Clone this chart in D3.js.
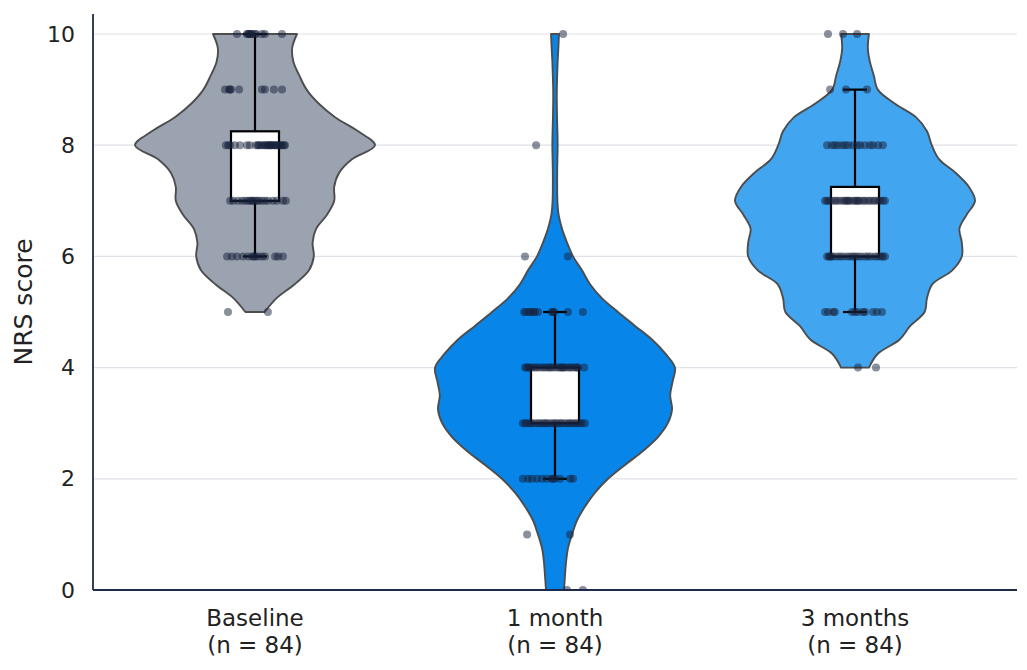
<!DOCTYPE html>
<html>
<head>
<meta charset="utf-8">
<script src="https://cdn.jsdelivr.net/npm/d3@7"></script>
<style>
  html, body { margin: 0; padding: 0; background: #ffffff; }
  svg { display: block; font-family: "DejaVu Sans", sans-serif; }
</style>
</head>
<body>
<svg id="chart" width="1027" height="670"></svg>
<script>
// ---------------- DATA ----------------
const categories = ["Baseline", "1 month", "3 months"];
const sampleSizes = [84, 84, 84];
const scoreLevels = [0, 1, 2, 3, 4, 5, 6, 7, 8, 9, 10];
const yTickValues = [0, 2, 4, 6, 8, 10];

// number of patients at each NRS score (0..10)
const baselineCounts = [0, 0, 0, 0, 0, 2, 14, 19, 28, 9, 12];
const month1Counts   = [2, 2, 12, 26, 26, 12, 2, 0, 1, 0, 1];
const month3Counts   = [0, 0, 0, 0, 2, 12, 22, 27, 15, 3, 3];

// strip-plot jitter (percent of category step), in ascending score order
const baselineJitter = [
  -9, 4.3,
  -9.3, -7.7, -6, -4, -2.3, -1, 0, 1, 2.3, 3.3, 6.7, 7.7, 9.3, -0.3,
  -8.3, -7.3, -5.7, -4.3, -3.3, -2.3, -1, -0.7, 0, 0.7, 2.3, 3.3, 4.3, 6, 7.3, 9.3, 10.3, -1.7, 1.3,
  -9.7, -8.3, -6.7, -5, -2.7, -1.7, 1, 2, 3.3, 4.3, 5.3, 6.3, 7.7, 8.7, 9.7, 10, 0.3, 1.3, 2.7, 3.7, 4.7, 5.7, 7, 8, 9, -9, 5, 6.7,
  -10, -8.7, -8, -5.3, 2.3, 3.3, 6.3, 9, -8.3,
  -6, -2.7, -2.3, -1.7, -1, 0, 2.3, 3.3, 9, -2, -1.3, 0.3
];
const month1Jitter = [
  4, 9.3,
  -9.3, 5,
  -10.7, -9, -7.7, -6, -4.3, -2.7, -1, 0, 1.7, 5, 6, -0.7,
  -10.7, -9.3, -7.7, -6.7, -5.7, -4, -2.7, -1.7, -0.7, 0.7, 1.7, 3.3, 4.3, 5.7, 6.7, 8.3, 10, -10, -8.3, -5, -3.3, 0, 2.3, 5, 7.3, 9,
  -10, -9, -7.7, -6.7, -5, -3.3, -2.3, -1, 0, 1, 2.3, 3.3, 4.3, 5.7, 6.7, 7.7, 9.7, -9.3, -8.3, -6, -4, -1.7, 1.7, 2.7, 5, 7.3,
  -10.3, -8.7, -7.3, -5.7, -1, -0.7, 4.3, 9.3, -9.7, -8, -6.7, -0.3,
  -10, 4.3,
  -6.3,
  2.7
];
const month3Jitter = [
  1, 7,
  -10, -7.3, -6.7, -1, 0, 1, 2.7, 3.3, 6, 7.3, 9, -9,
  -9.3, -8.7, -8, -7.3, -6, -5, -4, -2.7, -1.7, -0.7, 0, 1, 2, 3.3, 4.3, 5.3, 6.7, 7.7, 8.7, 9.3, 10, -8.3,
  -10, -9.3, -8.7, -7.7, -6.7, -6, -5, -4, -3.3, -2.3, -1.7, -0.7, 0, 0.7, 1.7, 2.7, 3.3, 4.3, 5, 6, 6.7, 7.7, 8.3, 9.3, 10, -2.7, 1,
  -9.3, -7.7, -6.7, -5.7, -4.3, -3.3, -2.3, -0.7, 0.7, 1.7, 3.3, 5, 6, 7.7, 9.3,
  -8.3, -3, 4,
  -9, -4, 0.7
];

// violin density profiles (relative width, max = 1), sampled every 0.25 from min to max score
const baselineViolinStart = 5;
const baselineViolin = [0.08, 0.18, 0.33, 0.45, 0.49, 0.48, 0.51, 0.6, 0.66, 0.66, 0.7, 0.81, 1.0,
  0.86, 0.67, 0.53, 0.43, 0.37, 0.32, 0.31, 0.35];
const month1ViolinStart = 0;
const month1Violin = [0.075, 0.083, 0.092, 0.108, 0.142, 0.183, 0.25, 0.333, 0.442, 0.583, 0.733, 0.858,
  0.94, 0.975, 0.96, 0.98, 1.0, 0.92, 0.81, 0.667, 0.525, 0.39, 0.292, 0.225, 0.15, 0.1, 0.058, 0.03,
  0.02, 0.018, 0.018, 0.02, 0.022, 0.02, 0.017, 0.015, 0.015, 0.018, 0.022, 0.028, 0.033];
const month3ViolinStart = 4;
const month3Violin = [0.116, 0.19, 0.37, 0.46, 0.58, 0.6, 0.645, 0.81, 0.89, 0.89, 0.87, 0.93, 1.0,
  0.95, 0.84, 0.70, 0.64, 0.6, 0.51, 0.33, 0.19, 0.157, 0.124, 0.107, 0.116];
const violinStep = 0.25;

const groupColors = ["#9ba3b0", "#0785e9", "#42a5f0"];

// ---------------- CHART ----------------
const svg = d3.select("#chart");
const plot = { left: 93, right: 1017, top: 14, bottom: 590 };

const x = d3.scaleBand().domain(categories).range([105, 1005]).paddingInner(0).paddingOuter(0);
const cx = c => x(c) + x.bandwidth() / 2;
const y = d3.scaleLinear().domain([0, 10.36]).range([plot.bottom, plot.top]);
const wScale = d3.scaleLinear().domain([0, 1]).range([0, x.step() * 0.4]);

const groups = [
  { name: categories[0], counts: baselineCounts, jitter: baselineJitter, violin: baselineViolin, start: baselineViolinStart, color: groupColors[0] },
  { name: categories[1], counts: month1Counts, jitter: month1Jitter, violin: month1Violin, start: month1ViolinStart, color: groupColors[1] },
  { name: categories[2], counts: month3Counts, jitter: month3Jitter, violin: month3Violin, start: month3ViolinStart, color: groupColors[2] }
];

groups.forEach(g => {
  g.values = [];
  scoreLevels.forEach((s, i) => { for (let k = 0; k < g.counts[i]; k++) g.values.push(s); });
  g.values.sort(d3.ascending);
  const q1 = d3.quantile(g.values, 0.25), q3 = d3.quantile(g.values, 0.75);
  const iqr = q3 - q1;
  g.q1 = q1; g.q3 = q3;
  g.wLo = d3.min(g.values.filter(v => v >= q1 - 1.5 * iqr));
  g.wHi = d3.max(g.values.filter(v => v <= q3 + 1.5 * iqr));
  g.profile = g.violin.map((w, i) => ({ v: g.start + i * violinStep, w }));
});

const defs = svg.append("defs");
defs.append("clipPath").attr("id", "plotClip").append("rect")
  .attr("x", plot.left).attr("y", plot.top)
  .attr("width", plot.right - plot.left).attr("height", plot.bottom - plot.top);

// gridlines
svg.append("g").selectAll("line").data(yTickValues).join("line")
  .attr("x1", plot.left).attr("x2", plot.right)
  .attr("y1", d => y(d)).attr("y2", d => y(d))
  .attr("stroke", "#dfe2e8").attr("stroke-width", 1.2);

const gPlot = svg.append("g").attr("clip-path", "url(#plotClip)");

// violins
groups.forEach(g => {
  const c = cx(g.name);
  const area = d3.area()
    .y(d => y(d.v))
    .x0(d => c - wScale(d.w))
    .x1(d => c + wScale(d.w))
    .curve(d3.curveCatmullRom.alpha(0.5));
  gPlot.append("path")
    .datum(g.profile)
    .attr("d", area)
    .attr("fill", g.color)
    .attr("stroke", "#4d4d4d")
    .attr("stroke-width", 1.9)
    .attr("stroke-linejoin", "round");
});

// box plots
const boxHalf = x.step() * 0.08;
const capHalf = x.step() * 0.04;
groups.forEach(g => {
  const c = cx(g.name);
  const b = gPlot.append("g").attr("stroke", "#000").attr("stroke-width", 2.2).attr("fill", "none");
  b.append("line").attr("x1", c).attr("x2", c).attr("y1", y(g.q3)).attr("y2", y(g.wHi));
  b.append("line").attr("x1", c).attr("x2", c).attr("y1", y(g.q1)).attr("y2", y(g.wLo));
  b.append("line").attr("x1", c - capHalf).attr("x2", c + capHalf).attr("y1", y(g.wHi)).attr("y2", y(g.wHi));
  b.append("line").attr("x1", c - capHalf).attr("x2", c + capHalf).attr("y1", y(g.wLo)).attr("y2", y(g.wLo));
  b.append("rect").attr("x", c - boxHalf).attr("width", boxHalf * 2)
    .attr("y", y(g.q3)).attr("height", y(g.q1) - y(g.q3))
    .attr("fill", "#ffffff");
});

// strip points
groups.forEach(g => {
  const c = cx(g.name);
  const pts = g.values.map((v, i) => ({ v, j: g.jitter[i] || 0 }));
  gPlot.append("g").selectAll("circle").data(pts).join("circle")
    .attr("cx", d => c + d.j / 100 * x.step())
    .attr("cy", d => y(d.v))
    .attr("r", 4)
    .attr("fill", "#15203a")
    .attr("fill-opacity", 0.5);
});

// spines
svg.append("line").attr("x1", plot.left).attr("x2", plot.left).attr("y1", plot.top).attr("y2", plot.bottom)
  .attr("stroke", "#1e2b48").attr("stroke-width", 1.8);
svg.append("line").attr("x1", plot.left).attr("x2", plot.right).attr("y1", plot.bottom).attr("y2", plot.bottom)
  .attr("stroke", "#1e2b48").attr("stroke-width", 1.8);

// y ticks
const yAxis = d3.axisLeft(y).tickValues(yTickValues).tickSize(0).tickPadding(18).tickFormat(d3.format("d"));
const gy = svg.append("g").attr("transform", `translate(${plot.left},0)`).call(yAxis);
gy.select(".domain").remove();
gy.selectAll("text").attr("font-size", 22).attr("fill", "#222").attr("font-family", "DejaVu Sans");

// x labels
const xl = svg.append("g").selectAll("text").data(groups).join("text")
  .attr("text-anchor", "middle")
  .attr("font-size", 23)
  .attr("fill", "#222")
  .attr("x", d => cx(d.name))
  .attr("y", 626);
xl.append("tspan").attr("x", d => cx(d.name)).text(d => d.name);
xl.append("tspan").attr("x", d => cx(d.name)).attr("dy", 27).text((d, i) => `(n = ${sampleSizes[i]})`);

// y label
svg.append("text")
  .attr("transform", `translate(32, ${(plot.top + plot.bottom) / 2}) rotate(-90)`)
  .attr("text-anchor", "middle")
  .attr("font-size", 25)
  .attr("fill", "#222")
  .text("NRS score");
</script>
</body>
</html>
